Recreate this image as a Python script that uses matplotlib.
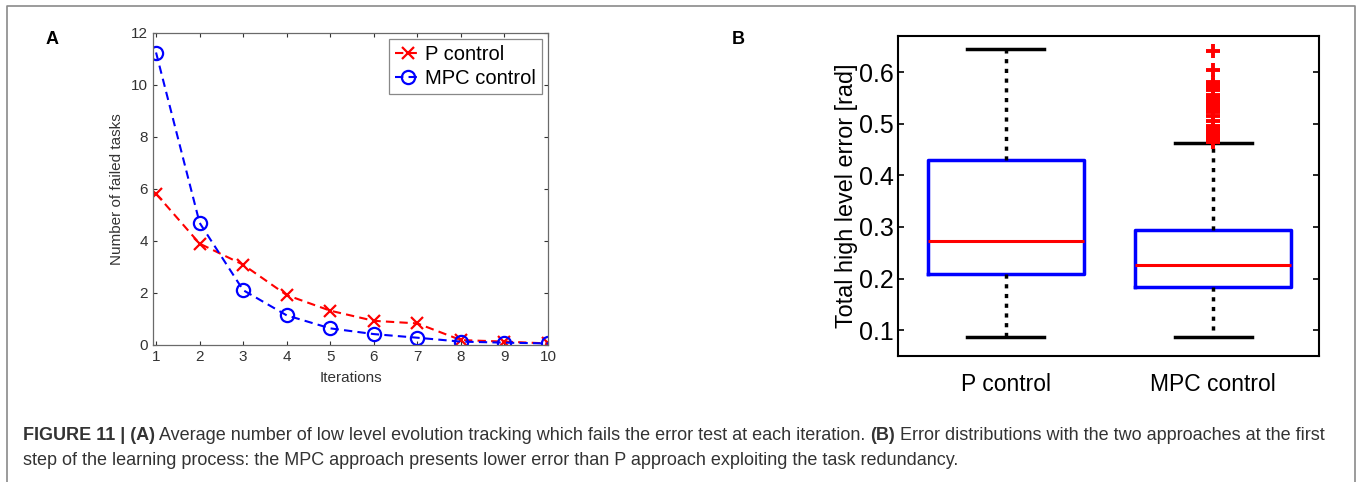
import numpy as np
import matplotlib
matplotlib.use("Agg")
import matplotlib.pyplot as plt
from matplotlib.lines import Line2D
from matplotlib.text import Annotation

plt.rcParams['font.family'] = ['Liberation Sans', 'DejaVu Sans']

# panel A data
iterations = [1, 2, 3, 4, 5, 6, 7, 8, 9, 10]
p_failed = [5.82, 3.9, 3.09, 1.92, 1.32, 0.93, 0.83, 0.19, 0.13, 0.06]
mpc_failed = [11.25, 4.7, 2.11, 1.14, 0.64, 0.42, 0.28, 0.13, 0.09, 0.06]

# panel B box statistics
box_labels = ["P control", "MPC control"]
box_whislo = [0.086, 0.086]
box_q1 = [0.209, 0.183]
box_med = [0.272, 0.226]
box_q3 = [0.429, 0.294]
box_whishi = [0.644, 0.462]
mpc_outliers = [0.641, 0.605, 0.581, 0.576, 0.571, 0.566, 0.556, 0.551, 0.546,
                0.541, 0.536, 0.531, 0.527, 0.523, 0.515, 0.506, 0.496, 0.489,
                0.484, 0.479, 0.474, 0.469, 0.465]

W, H = 1360, 482
fig = plt.figure(figsize=(W / 100, H / 100), dpi=100)

def px_axes(l, t, r, b):
    return fig.add_axes([l / W, 1 - b / H, (r - l) / W, (b - t) / H])

# ---- panel A
axA = px_axes(153, 33, 548, 345)
axA.plot(iterations, p_failed, color='red', ls='--', lw=1.5, marker='x',
         ms=8, mew=1.6, label='P control', dashes=(4, 2.5))
axA.plot(iterations, mpc_failed, color='blue', ls='--', lw=1.5, marker='o',
         ms=9.5, mew=1.6, mfc='none', label='MPC control', dashes=(4, 2.5))
axA.set_xlim(0.93, 10)
axA.set_ylim(0, 12)
axA.set_xticks(iterations)
axA.set_yticks(range(0, 13, 2))
axA.tick_params(direction='in', top=True, right=True, labelsize=11,
                colors='#333333', length=3, width=0.8)
for s in axA.spines.values():
    s.set_color('#6a6a6a')
    s.set_linewidth(0.9)
axA.set_xlabel('Iterations', fontsize=11, color='#333333', labelpad=5)
axA.set_ylabel('Number of failed tasks', fontsize=11, color='#333333', labelpad=5)
leg = axA.legend(loc='upper right', fontsize=14.5, fancybox=False,
                 edgecolor='#6a6a6a', handlelength=1.3, handletextpad=0.2,
                 borderpad=0.3, labelspacing=0.25, borderaxespad=0.3)
leg.get_frame().set_linewidth(0.9)

# ---- panel B
axB = px_axes(898, 36, 1319, 356)
stats = []
for i in range(2):
    stats.append(dict(label=box_labels[i], whislo=box_whislo[i], q1=box_q1[i],
                      med=box_med[i], q3=box_q3[i], whishi=box_whishi[i],
                      fliers=mpc_outliers if i == 1 else []))
axB.bxp(stats, positions=[1, 2], widths=0.75, capwidths=0.37,
        boxprops=dict(color='blue', lw=2.5),
        medianprops=dict(color='red', lw=2.2),
        whiskerprops=dict(color='black', lw=2.5, ls=(0, (1.2, 1.6))),
        capprops=dict(color='black', lw=2.5),
        flierprops=dict(marker='+', markeredgecolor='red', markersize=10,
                        mew=2.8, ls='none'))
axB.set_xlim(0.48, 2.51)
axB.set_ylim(0.05, 0.67)
axB.set_yticks([0.1, 0.2, 0.3, 0.4, 0.5, 0.6])
axB.set_yticklabels(['0.1', '0.2', '0.3', '0.4', '0.5', '0.6'])
axB.tick_params(axis='y', direction='in', right=True, labelsize=18,
                length=4, width=1.2, pad=3)
axB.tick_params(axis='x', length=0, labelsize=16.5, pad=12)
for s in axB.spines.values():
    s.set_color('black')
    s.set_linewidth(1.5)
axB.set_ylabel('Total high level error [rad]', fontsize=16.8, labelpad=1)

# panel letters
fig.text(52 / W, 1 - 40 / H, 'A', fontsize=13, fontweight='bold', ha='center', va='center')
fig.text(738 / W, 1 - 40 / H, 'B', fontsize=13, fontweight='bold', ha='center', va='center')

# outer frame
fig.add_artist(Line2D([7 / W, 7 / W, 1355 / W, 1355 / W], [0, 1 - 6 / H, 1 - 6 / H, 0],
                      color='#8a8a8a', lw=1.2))

# caption, pieces chained one after another
cap_color = '#333333'
cap_size = 13.0
line1 = [("FIGURE 11 | (A)", 'bold'),
         (" Average number of low level evolution tracking which fails the error test at each iteration. ", 'normal'),
         ("(B)", 'bold'),
         (" Error distributions with the two approaches at the first", 'normal')]
line2 = "step of the learning process: the MPC approach presents lower error than P approach exploiting the task redundancy."

prev = fig.text(23 / W, 1 - 440 / H, line1[0][0], fontsize=cap_size,
                fontweight=line1[0][1], color=cap_color, va='baseline')
for txt, wt in line1[1:]:
    prev = fig.add_artist(Annotation(txt, xy=(1, 0), xycoords=prev, va='bottom',
                                     ha='left', fontsize=cap_size, fontweight=wt,
                                     color=cap_color))
fig.text(23 / W, 1 - 465 / H, line2, fontsize=cap_size, color=cap_color, va='baseline')

fig.savefig('out.png', dpi=100)
